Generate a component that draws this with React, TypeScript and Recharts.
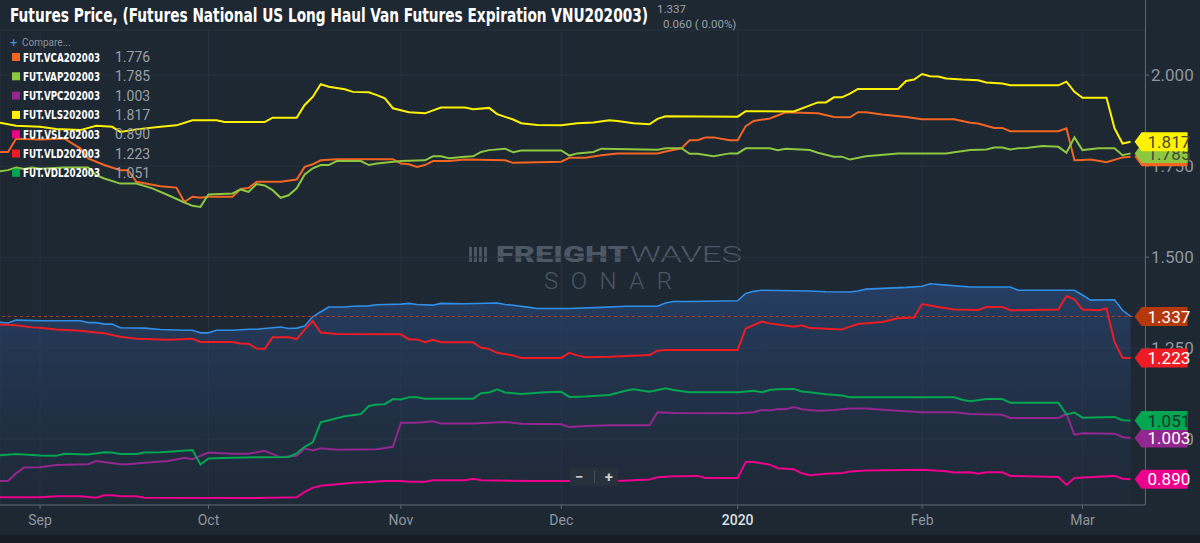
import { ComposedChart, Line, Area, XAxis, YAxis, CartesianGrid, ReferenceLine, ReferenceDot } from 'recharts'

// x = weekday index counted from Mon 26 Aug 2019, y = futures price
type Pt = [number, number]

const vnuPoints: Pt[] = [
  [0, 1.321], [1, 1.319], [2, 1.327], [5, 1.325], [10, 1.325], [11, 1.32], [12, 1.32], [13, 1.316], [14, 1.316],
  [15, 1.306], [18, 1.305], [20, 1.301], [23, 1.299], [24, 1.299], [25, 1.292], [26, 1.292], [27, 1.299], [29, 1.299],
  [31, 1.302], [32, 1.302], [34, 1.306], [35, 1.308], [36, 1.304], [37, 1.305], [38, 1.311], [39, 1.336], [40, 1.35],
  [41, 1.363], [43, 1.363], [44, 1.365], [46, 1.366], [47, 1.369], [50, 1.371], [51, 1.373], [52, 1.37], [54, 1.368],
  [55, 1.373], [58, 1.372], [62, 1.374], [63, 1.37], [64, 1.368], [66, 1.362], [67, 1.359], [71, 1.359], [75, 1.362],
  [78, 1.365], [82, 1.365], [83, 1.374], [84, 1.378], [86, 1.378], [92, 1.38], [93, 1.4], [94, 1.406], [95, 1.409],
  [101, 1.407], [103, 1.405], [106, 1.404], [107, 1.407], [108, 1.412], [113, 1.417], [115, 1.42], [116, 1.427],
  [118, 1.423], [121, 1.418], [126, 1.418], [127, 1.409], [134, 1.409], [135, 1.396], [136, 1.382], [139, 1.383],
  [140, 1.354], [141, 1.337],
]

const vcaPoints: Pt[] = [
  [0, 1.789], [1, 1.789], [2, 1.825], [5, 1.823], [8, 1.826], [10, 1.799], [11, 1.771], [13, 1.753], [15, 1.739],
  [16, 1.739], [17, 1.707], [20, 1.695], [22, 1.691], [23, 1.652], [24, 1.666], [25, 1.663], [26, 1.666], [29, 1.666],
  [30, 1.687], [31, 1.69], [32, 1.707], [35, 1.707], [37, 1.713], [38, 1.748], [39, 1.755], [40, 1.766], [42, 1.769],
  [49, 1.769], [50, 1.757], [51, 1.755], [52, 1.748], [53, 1.753], [54, 1.764], [56, 1.764], [58, 1.768], [63, 1.766],
  [64, 1.759], [70, 1.762], [71, 1.773], [73, 1.773], [75, 1.78], [77, 1.785], [82, 1.785], [83, 1.79], [85, 1.799],
  [86, 1.821], [87, 1.821], [88, 1.829], [89, 1.829], [91, 1.821], [92, 1.821], [93, 1.86], [94, 1.874], [96, 1.881],
  [98, 1.898], [102, 1.895], [104, 1.885], [106, 1.884], [107, 1.898], [108, 1.898], [110, 1.892], [113, 1.885],
  [115, 1.879], [119, 1.879], [121, 1.869], [122, 1.867], [124, 1.855], [125, 1.855], [126, 1.846], [132, 1.846],
  [133, 1.854], [134, 1.766], [135, 1.767], [136, 1.768], [138, 1.761], [140, 1.774], [141, 1.776],
]

const vapPoints: Pt[] = [
  [0, 1.736], [1, 1.739], [2, 1.746], [3, 1.742], [4, 1.746], [5, 1.743], [8, 1.746], [11, 1.746], [12, 1.725],
  [13, 1.716], [15, 1.702], [17, 1.702], [19, 1.689], [21, 1.67], [23, 1.65], [24, 1.641], [25, 1.638], [26, 1.672],
  [29, 1.675], [30, 1.686], [31, 1.679], [32, 1.701], [33, 1.697], [34, 1.684], [35, 1.663], [36, 1.67], [37, 1.689],
  [38, 1.727], [39, 1.744], [40, 1.753], [41, 1.753], [42, 1.764], [45, 1.764], [46, 1.753], [47, 1.757], [50, 1.764],
  [53, 1.766], [54, 1.777], [55, 1.777], [56, 1.772], [58, 1.776], [59, 1.777], [60, 1.789], [61, 1.794], [63, 1.798],
  [64, 1.788], [65, 1.793], [70, 1.793], [71, 1.779], [72, 1.785], [74, 1.789], [75, 1.798], [82, 1.795], [83, 1.799],
  [85, 1.799], [86, 1.784], [87, 1.784], [89, 1.777], [91, 1.785], [92, 1.785], [93, 1.799], [96, 1.799], [97, 1.794],
  [98, 1.798], [101, 1.794], [102, 1.787], [104, 1.776], [105, 1.776], [106, 1.768], [108, 1.777], [112, 1.785],
  [118, 1.785], [119, 1.788], [121, 1.794], [123, 1.796], [124, 1.801], [125, 1.801], [126, 1.796], [127, 1.799],
  [128, 1.8], [130, 1.805], [132, 1.803], [133, 1.787], [134, 1.829], [135, 1.794], [137, 1.799], [139, 1.799],
  [140, 1.78], [141, 1.785],
]

const vpcPoints: Pt[] = [
  [0, 0.885], [1, 0.885], [2, 0.906], [3, 0.922], [5, 0.923], [7, 0.929], [11, 0.931], [12, 0.94], [15, 0.931],
  [16, 0.931], [18, 0.935], [21, 0.94], [23, 0.949], [24, 0.945], [26, 0.963], [29, 0.96], [31, 0.96], [33, 0.968],
  [35, 0.95], [37, 0.954], [38, 0.974], [39, 0.969], [40, 0.975], [42, 0.971], [47, 0.972], [49, 0.979], [50, 1.045],
  [52, 1.045], [54, 1.049], [55, 1.043], [59, 1.043], [63, 1.047], [65, 1.042], [70, 1.041], [71, 1.033], [73, 1.036],
  [76, 1.038], [81, 1.038], [82, 1.074], [84, 1.072], [92, 1.071], [94, 1.074], [95, 1.08], [96, 1.079], [97, 1.083],
  [98, 1.082], [99, 1.088], [100, 1.082], [102, 1.078], [104, 1.08], [106, 1.084], [108, 1.084], [111, 1.079],
  [115, 1.074], [119, 1.074], [121, 1.069], [125, 1.067], [126, 1.058], [132, 1.058], [133, 1.069], [134, 1.012],
  [135, 1.016], [139, 1.015], [140, 1.006], [141, 1.003],
]

const vlsPoints: Pt[] = [
  [0, 1.869], [2, 1.861], [5, 1.858], [7, 1.852], [10, 1.849], [12, 1.861], [14, 1.858], [15, 1.844], [17, 1.851],
  [20, 1.858], [22, 1.862], [24, 1.876], [27, 1.876], [28, 1.871], [33, 1.871], [34, 1.883], [37, 1.883], [38, 1.918],
  [39, 1.94], [40, 1.975], [41, 1.968], [43, 1.961], [44, 1.954], [46, 1.953], [47, 1.945], [48, 1.936], [49, 1.909],
  [51, 1.898], [53, 1.895], [55, 1.911], [58, 1.911], [59, 1.906], [61, 1.91], [62, 1.893], [64, 1.878], [65, 1.868],
  [67, 1.863], [70, 1.862], [72, 1.868], [74, 1.87], [76, 1.876], [77, 1.874], [79, 1.868], [81, 1.865], [82, 1.88],
  [83, 1.887], [92, 1.886], [93, 1.901], [99, 1.9], [102, 1.925], [103, 1.925], [104, 1.939], [105, 1.939],
  [106, 1.949], [107, 1.962], [112, 1.962], [113, 1.984], [114, 1.988], [115, 2.003], [116, 1.997], [117, 1.996],
  [118, 1.991], [120, 1.988], [122, 1.986], [123, 1.98], [125, 1.977], [126, 1.972], [132, 1.972], [133, 1.982],
  [134, 1.954], [135, 1.938], [138, 1.938], [139, 1.854], [140, 1.812], [141, 1.817],
]

const vslPoints: Pt[] = [
  [0, 0.84], [5, 0.84], [7, 0.843], [10, 0.843], [12, 0.839], [13, 0.846], [14, 0.846], [15, 0.843], [17, 0.843],
  [18, 0.839], [32, 0.838], [37, 0.84], [38, 0.855], [39, 0.866], [40, 0.872], [42, 0.876], [44, 0.88], [46, 0.882],
  [48, 0.885], [50, 0.885], [51, 0.883], [53, 0.883], [54, 0.887], [58, 0.887], [59, 0.891], [60, 0.887], [66, 0.885],
  [77, 0.885], [81, 0.889], [82, 0.895], [84, 0.898], [87, 0.899], [88, 0.893], [92, 0.893], [93, 0.937], [94, 0.937],
  [96, 0.93], [97, 0.92], [99, 0.917], [100, 0.906], [101, 0.901], [103, 0.905], [105, 0.907], [106, 0.911],
  [108, 0.914], [115, 0.916], [118, 0.912], [119, 0.908], [121, 0.909], [122, 0.905], [123, 0.909], [125, 0.909],
  [126, 0.899], [132, 0.896], [133, 0.874], [134, 0.893], [139, 0.899], [140, 0.891], [141, 0.89],
]

const vldPoints: Pt[] = [
  [0, 1.315], [2, 1.313], [4, 1.307], [5, 1.306], [7, 1.301], [10, 1.298], [12, 1.293], [13, 1.291], [15, 1.281],
  [17, 1.276], [21, 1.273], [24, 1.276], [25, 1.267], [29, 1.267], [30, 1.263], [31, 1.262], [32, 1.249], [33, 1.248],
  [34, 1.28], [36, 1.28], [37, 1.275], [38, 1.301], [39, 1.324], [40, 1.293], [42, 1.289], [50, 1.288], [51, 1.274],
  [52, 1.274], [53, 1.266], [54, 1.273], [55, 1.266], [59, 1.266], [60, 1.251], [61, 1.248], [62, 1.237], [64, 1.23],
  [65, 1.223], [70, 1.223], [71, 1.237], [72, 1.23], [73, 1.225], [76, 1.226], [81, 1.231], [82, 1.243], [83, 1.245],
  [92, 1.245], [93, 1.304], [95, 1.323], [96, 1.318], [99, 1.309], [100, 1.313], [101, 1.305], [105, 1.301],
  [106, 1.309], [107, 1.316], [110, 1.322], [112, 1.332], [114, 1.334], [115, 1.371], [117, 1.363], [119, 1.356],
  [122, 1.355], [123, 1.363], [125, 1.363], [126, 1.354], [132, 1.356], [133, 1.393], [134, 1.384], [135, 1.356],
  [137, 1.354], [138, 1.359], [139, 1.267], [140, 1.223], [141, 1.223],
]

const vdlPoints: Pt[] = [
  [0, 0.956], [2, 0.959], [5, 0.955], [7, 0.954], [8, 0.96], [11, 0.958], [13, 0.964], [14, 0.963], [15, 0.959],
  [17, 0.959], [18, 0.963], [20, 0.964], [22, 0.967], [24, 0.97], [25, 0.93], [26, 0.947], [29, 0.949], [32, 0.95],
  [36, 0.951], [37, 0.961], [38, 0.979], [39, 0.991], [40, 1.046], [41, 1.052], [43, 1.063], [45, 1.069], [46, 1.091],
  [47, 1.095], [48, 1.096], [49, 1.11], [50, 1.109], [51, 1.115], [52, 1.115], [53, 1.111], [59, 1.111], [60, 1.126],
  [61, 1.128], [62, 1.137], [63, 1.128], [65, 1.124], [68, 1.129], [70, 1.13], [71, 1.116], [73, 1.117], [76, 1.121],
  [78, 1.133], [79, 1.137], [81, 1.13], [83, 1.14], [84, 1.135], [86, 1.129], [92, 1.129], [94, 1.133], [95, 1.129],
  [96, 1.135], [97, 1.137], [99, 1.138], [100, 1.131], [101, 1.129], [103, 1.123], [105, 1.12], [106, 1.115],
  [119, 1.115], [120, 1.108], [121, 1.104], [123, 1.11], [125, 1.11], [126, 1.1], [132, 1.1], [133, 1.068],
  [134, 1.073], [135, 1.059], [139, 1.061], [140, 1.052], [141, 1.051],
]

const monthTicks = [5, 26, 50, 70, 92, 115, 135]
const monthLabels = ['Sep', 'Oct', 'Nov', 'Dec', '2020', 'Feb', 'Mar']
const priceTicks = [1.0, 1.25, 1.5, 1.75, 2.0]

const X_DOMAIN: [number, number] = [0, 142.8]
const Y_DOMAIN: [number, number] = [0.819, 2.124]

const toRows = (pts: Pt[]) => pts.map(([i, v]) => ({ i, v }))

// legend order, top to bottom
const series = [
  { name: 'FUT.VCA202003', color: '#f26522', tagText: '#5a3a2a', points: vcaPoints },
  { name: 'FUT.VAP202003', color: '#8dc63f', tagText: '#3e4a3a', points: vapPoints },
  { name: 'FUT.VPC202003', color: '#92278f', tagText: '#ffffff', points: vpcPoints },
  { name: 'FUT.VLS202003', color: '#fff200', tagText: '#4a4a3a', points: vlsPoints },
  { name: 'FUT.VSL202003', color: '#ec008c', tagText: '#ffffff', points: vslPoints },
  { name: 'FUT.VLD202003', color: '#ed1c24', tagText: '#ffffff', points: vldPoints },
  { name: 'FUT.VDL202003', color: '#00a651', tagText: '#1c3326', points: vdlPoints },
]

// the right-hand price tags are stacked in this order (last one on top)
const tagOrder = ['FUT.VCA202003', 'FUT.VAP202003', 'FUT.VLS202003', 'FUT.VPC202003', 'FUT.VDL202003', 'FUT.VLD202003', 'FUT.VSL202003']

const bg = '#1e2833'
const axisGrey = '#8e969e'
const condensed = '"Liberation Sans Narrow", "DejaVu Sans Condensed", Roboto, sans-serif'

function PriceTag({ cx, cy, fill, textColor, label }: any) {
  if (cx == null || cy == null) return null
  const tip = cx + 4
  const left = cx + 11
  const right = cx + 57
  const h = 9.5
  return (
    <g>
      <path d={`M${tip},${cy} L${left},${cy - h} L${right},${cy - h} L${right},${cy + h} L${left},${cy + h} Z`} fill={fill} />
      <text x={cx + 17} y={cy} dy="0.36em" fill={textColor} fontSize={17} fontFamily="Roboto, sans-serif">
        {label}
      </text>
    </g>
  )
}

function MonthTick({ x, y, payload }: any) {
  const label = monthLabels[monthTicks.indexOf(payload.value)]
  const isYear = label === '2020'
  return (
    <text
      x={x}
      y={y}
      dy={10}
      textAnchor="middle"
      fill={isYear ? '#dde1e4' : axisGrey}
      fontWeight={isYear ? 500 : 400}
      fontSize={14}
      fontFamily="Roboto, sans-serif"
    >
      {label}
    </text>
  )
}

function Watermark() {
  return (
    <svg width={1200} height={543} style={{ position: 'absolute', left: 0, top: 0 }}>
      <g fill="#4a5561">
        {[0, 1, 2, 3].map((k) => (
          <rect key={k} x={469 + k * 5} y={247} width={3} height={15} />
        ))}
      </g>
      <text x={496} y={262} fontSize={22} fontWeight={900} fill="#4d5864" fontFamily="Roboto, sans-serif" textLength={132} lengthAdjust="spacingAndGlyphs">
        FREIGHT
      </text>
      <text x={630} y={262} fontSize={22} fontWeight={300} fill="#4d5864" fontFamily="Roboto, sans-serif" textLength={112} lengthAdjust="spacingAndGlyphs">
        WAVES
      </text>
      <text x={544} y={289} fontSize={24} fontWeight={300} fill="#4a5561" fontFamily="Roboto, sans-serif" textLength={128} lengthAdjust="spacing">
        SONAR
      </text>
    </svg>
  )
}

function Overlay() {
  return (
    <svg width={1200} height={543} style={{ position: 'absolute', left: 0, top: 0, pointerEvents: 'none' }}>
      <text x={10} y={22} fontSize={19} fontWeight={700} fill="#ffffff" fontFamily={condensed} textLength={638} lengthAdjust="spacingAndGlyphs">
        Futures Price, (Futures National US Long Haul Van Futures Expiration VNU202003)
      </text>
      <text x={657} y={13} fontSize={11.5} fill="#9aa1a8" fontFamily="Roboto, sans-serif">1.337</text>
      <text x={663} y={28} fontSize={11.5} fill="#9aa1a8" fontFamily="Roboto, sans-serif" xmlSpace="preserve">0.060 ( 0.00%)</text>

      <text x={10} y={47} fontSize={13} fill="#3d8fe0" fontFamily="Roboto, sans-serif">+</text>
      <text x={22} y={46} fontSize={10} fill="#8a929a" fontFamily="Roboto, sans-serif">Compare...</text>

      {series.map((s, k) => {
        const cy = 57 + k * 19.3
        const last = s.points[s.points.length - 1][1]
        return (
          <g key={s.name}>
            <rect x={12} y={cy - 4} width={8} height={8} fill={s.color} />
            <text x={23} y={cy + 4.5} fontSize={12} fontWeight={700} fill="#ffffff" fontFamily={condensed} textLength={77} lengthAdjust="spacingAndGlyphs">
              {s.name}
            </text>
            <text x={115} y={cy + 5} fontSize={14} fill="#9aa0a6" fontFamily="Roboto, sans-serif">
              {last.toFixed(3)}
            </text>
          </g>
        )
      })}
    </svg>
  )
}

export default function App() {
  const tags = [
    ...tagOrder.map((n) => {
      const s = series.find((x) => x.name === n)!
      return { key: n, value: s.points[s.points.length - 1][1], fill: s.color, text: s.tagText }
    }),
    { key: 'VNU202003', value: vnuPoints[vnuPoints.length - 1][1], fill: '#b5390b', text: '#ffffff' },
  ]

  return (
    <div style={{ position: 'relative', width: 1200, height: 543, background: bg, overflow: 'hidden' }}>
      <style>{'body{margin:0}'}</style>
      <Watermark />
      <div style={{ position: 'absolute', left: 0, top: 0 }}>
        <ComposedChart width={1200} height={535} margin={{ top: 30, right: 0, bottom: 0, left: 0 }}>
          <defs>
            <linearGradient id="vnuFill" x1="0" y1="0" x2="0" y2="1">
              <stop offset="0%" stopColor="#2b4c82" stopOpacity={0.62} />
              <stop offset="100%" stopColor="#22344f" stopOpacity={0.15} />
            </linearGradient>
          </defs>
          <CartesianGrid stroke="#27323e" strokeWidth={1} />
          <XAxis
            type="number"
            dataKey="i"
            domain={X_DOMAIN}
            ticks={monthTicks}
            tick={<MonthTick />}
            tickSize={4}
            tickMargin={6}
            height={30}
            stroke="#5b6570"
            allowDataOverflow
          />
          <YAxis
            orientation="right"
            type="number"
            dataKey="v"
            domain={Y_DOMAIN}
            ticks={priceTicks}
            tickFormatter={(v: number) => v.toFixed(3)}
            tick={{ fill: axisGrey, fontSize: 17, fontFamily: 'Roboto, sans-serif' }}
            tickSize={4}
            tickMargin={2}
            width={55}
            stroke="#5b6570"
            axisLine={false}
            allowDataOverflow
          />
          <Area
            data={toRows(vnuPoints)}
            dataKey="v"
            type="linear"
            stroke="#2f8fe8"
            strokeWidth={1.6}
            fill="url(#vnuFill)"
            fillOpacity={1}
            dot={false}
            activeDot={false}
            isAnimationActive={false}
          />
          <ReferenceLine y={1.337} stroke="#a3402a" strokeDasharray="3 3" />
          {series.map((s) => (
            <Line
              key={s.name}
              data={toRows(s.points)}
              dataKey="v"
              type="linear"
              stroke={s.color}
              strokeWidth={2}
              dot={false}
              activeDot={false}
              isAnimationActive={false}
            />
          ))}
        </ComposedChart>
      </div>
      <div style={{ position: 'absolute', left: 1145, top: 0, width: 1, height: 505, background: '#5b6570' }} />
      {/* price tags sit above the axis labels, so they get their own layer on the same scales */}
      <div style={{ position: 'absolute', left: 0, top: 0 }}>
        <ComposedChart width={1200} height={535} margin={{ top: 30, right: 55, bottom: 30, left: 0 }}>
          <XAxis type="number" dataKey="i" domain={X_DOMAIN} hide allowDataOverflow />
          <YAxis type="number" dataKey="v" domain={Y_DOMAIN} hide allowDataOverflow />
          {tags.map((t) => (
            <ReferenceDot
              key={t.key}
              x={141}
              y={t.value}
              r={0}
              ifOverflow="visible"
              shape={(p: any) => <PriceTag {...p} fill={t.fill} textColor={t.text} label={t.value.toFixed(3)} />}
            />
          ))}
        </ComposedChart>
      </div>
      <div style={{ position: 'absolute', left: 0, top: 535, width: 1200, height: 8, background: '#161d25' }} />
      <div
        style={{
          position: 'absolute', left: 570, top: 468, width: 48, height: 18, background: '#27313c', borderRadius: 2,
          display: 'flex', alignItems: 'center', justifyContent: 'space-around', color: '#c9cdd1',
          fontFamily: 'Roboto, sans-serif', fontSize: 15, fontWeight: 700,
        }}
      >
        <span>−</span>
        <span style={{ width: 1, height: 12, background: '#46505b' }} />
        <span>+</span>
      </div>
      <Overlay />
    </div>
  )
}
